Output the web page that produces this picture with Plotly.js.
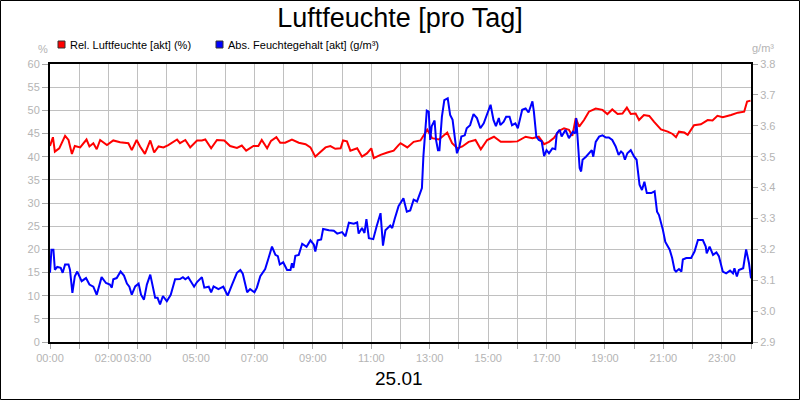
<!DOCTYPE html>
<html>
<head>
<meta charset="utf-8">
<script src="https://cdn.plot.ly/plotly-3.0.1.min.js"></script>
<style>
  html, body { margin: 0; padding: 0; background: #fff; }
  #chart { width: 800px; height: 400px; }
</style>
</head>
<body>
<div id="chart"></div>
<script>
var chartTitle = 'Luftfeuchte [pro Tag]';
var dayLabel = '25.01';
var relName = 'Rel. Luftfeuchte [akt] (%)';
var absName = 'Abs. Feuchtegehalt [akt] (g/m³)';

// x axis: a tick every hour, only some carry a label
var hourTicks = [0,1,2,3,4,5,6,7,8,9,10,11,12,13,14,15,16,17,18,19,20,21,22,23,24];
var hourLabels = ['00:00','','02:00','03:00','','05:00','','07:00','','09:00','','11:00','',
  '13:00','','15:00','','17:00','','19:00','','21:00','','23:00',''];

// relative humidity (%)
var relTimes = [
  '00:00','00:06','00:10','00:19','00:31','00:38','00:45','00:51','01:02','01:15',
  '01:21','01:29','01:36','01:43','01:57','02:10','02:24','02:41','02:48','02:58',
  '03:05','03:15','03:26','03:34','03:43','03:53','04:03','04:14','04:21','04:27',
  '04:38','04:48','05:02','05:12','05:19','05:31','05:43','05:58','06:10','06:24',
  '06:34','06:43','06:58','07:08','07:15','07:26','07:34','07:45','07:53','08:03',
  '08:17','08:31','08:45','08:55','09:05','09:12','09:26','09:36','09:46','09:57',
  '10:02','10:10','10:17','10:31','10:41','10:51','11:00','11:05','11:19','11:33',
  '11:46','11:56','12:00','12:14','12:27','12:41','12:55','13:05','13:19','13:36',
  '13:46','13:57','14:07','14:20','14:34','14:45','14:58','15:12','15:26','15:46',
  '16:00','16:17','16:31','16:44','16:55','17:05','17:15','17:26','17:36','17:46',
  '17:53','18:00','18:07','18:17','18:27','18:41','18:55','19:05','19:15','19:26',
  '19:36','19:45','19:53','20:03','20:10','20:20','20:31','20:41','20:55','21:09',
  '21:19','21:26','21:32','21:43','21:50','22:03','22:17','22:31','22:41','22:51',
  '23:02','23:19','23:33','23:46','23:52','23:59'];
var relValues = [
  42.3,44.2,41.1,41.8,44.5,43.6,40.6,42.3,42.0,43.7,
  42.2,42.9,41.6,43.6,42.5,43.5,43.1,42.9,41.4,43.6,
  42.2,40.6,43.5,40.9,42.2,42.0,42.5,43.2,43.7,42.9,
  43.6,42.0,43.5,43.5,43.7,41.8,43.6,43.5,42.3,41.9,
  42.4,41.3,42.3,42.3,43.6,41.8,43.4,44.2,43.0,43.0,
  43.7,43.0,42.7,42.0,40.0,40.7,42.0,42.3,41.7,41.8,
  43.5,43.3,41.3,41.8,40.0,40.7,41.8,39.7,40.4,40.9,
  41.3,42.5,42.9,42.0,43.2,43.5,45.8,44.0,43.7,45.2,
  42.9,41.8,42.2,43.2,43.6,41.6,43.6,44.3,43.2,43.2,
  43.3,44.3,44.0,44.3,42.7,43.2,44.0,45.6,46.1,45.8,
  44.5,48.3,46.5,47.9,49.7,50.4,50.1,49.2,50.2,49.2,
  49.3,50.6,49.2,49.3,47.9,49.0,48.8,47.5,45.9,45.4,
  44.9,44.2,45.4,45.2,44.7,46.8,47.0,47.9,47.8,48.8,
  48.5,49.0,49.5,49.7,51.9,52.1];

// absolute moisture content (g/m³)
var absTimes = [
  '00:00','00:03','00:07','00:10','00:15','00:22','00:26','00:31','00:38','00:41',
  '00:46','00:51','00:56','01:05','01:14','01:21','01:29','01:36','01:46','01:55',
  '02:03','02:07','02:10','02:17','02:25','02:32','02:38','02:43','02:48','02:55',
  '03:02','03:07','03:13','03:19','03:26','03:31','03:36','03:41','03:46','03:52',
  '04:00','04:08','04:17','04:27','04:33','04:38','04:44','04:56','05:02','05:12',
  '05:17','05:26','05:31','05:36','05:46','05:56','06:05','06:14','06:24','06:31',
  '06:36','06:45','06:51','07:00','07:05','07:12','07:22','07:29','07:36','07:43',
  '07:48','07:52','07:59','08:07','08:14','08:17','08:20','08:24','08:31','08:38',
  '08:47','08:55','09:02','09:05','09:10','09:17','09:21','09:33','09:43','09:50',
  '10:00','10:07','10:14','10:24','10:31','10:34','10:41','10:46','10:50','10:55',
  '11:04','11:11','11:19','11:24','11:29','11:39','11:43','11:48','11:56','12:06',
  '12:13','12:20','12:27','12:34','12:44','12:47','12:54','12:58','13:01','13:04',
  '13:10','13:13','13:17','13:20','13:25','13:30','13:37','13:42','13:47','13:53',
  '13:56','14:01','14:05','14:12','14:16','14:23','14:30','14:37','14:44','14:51',
  '14:58','15:05','15:11','15:16','15:22','15:25','15:32','15:37','15:44','15:49',
  '15:56','16:01','16:10','16:17','16:23','16:31','16:34','16:39','16:44','16:50',
  '16:55','17:00','17:05','17:12','17:18','17:21','17:27','17:31','17:39','17:46',
  '17:54','17:59','18:01','18:06','18:08','18:11','18:14','18:21','18:27','18:33',
  '18:36','18:41','18:48','18:55','19:02','19:08','19:15','19:22','19:28','19:33',
  '19:37','19:41','19:46','19:53','20:00','20:05','20:11','20:16','20:21','20:26',
  '20:35','20:42','20:47','20:51','20:59','21:04','21:13','21:18','21:23','21:26',
  '21:32','21:37','21:40','21:47','21:57','22:04','22:11','22:21','22:27','22:29',
  '22:35','22:42','22:49','22:54','23:02','23:09','23:17','23:23','23:26','23:31',
  '23:35','23:44','23:50','23:56','24:00'];
var absValues = [
  3.124,3.199,3.199,3.134,3.143,3.140,3.124,3.151,3.151,3.134,
  3.059,3.113,3.128,3.097,3.107,3.086,3.079,3.053,3.110,3.091,
  3.086,3.076,3.103,3.107,3.128,3.115,3.089,3.079,3.053,3.080,
  3.089,3.053,3.037,3.086,3.118,3.080,3.043,3.043,3.022,3.049,
  3.032,3.053,3.103,3.104,3.110,3.103,3.110,3.079,3.094,3.110,
  3.076,3.079,3.061,3.080,3.071,3.079,3.050,3.086,3.124,3.133,
  3.121,3.061,3.071,3.061,3.076,3.113,3.136,3.172,3.209,3.182,
  3.178,3.151,3.158,3.133,3.133,3.155,3.140,3.179,3.182,3.218,
  3.208,3.229,3.215,3.193,3.229,3.232,3.266,3.262,3.260,3.251,
  3.256,3.242,3.286,3.283,3.287,3.251,3.269,3.253,3.298,3.236,
  3.233,3.275,3.317,3.212,3.262,3.277,3.269,3.298,3.340,3.365,
  3.322,3.326,3.361,3.355,3.398,3.500,3.649,3.646,3.554,3.598,
  3.617,3.554,3.521,3.521,3.629,3.683,3.689,3.635,3.619,3.544,
  3.511,3.532,3.565,3.569,3.592,3.602,3.638,3.625,3.592,3.608,
  3.635,3.668,3.619,3.599,3.625,3.602,3.613,3.629,3.629,3.602,
  3.608,3.592,3.652,3.656,3.643,3.679,3.646,3.565,3.554,3.550,
  3.502,3.521,3.511,3.527,3.524,3.575,3.587,3.565,3.587,3.560,
  3.581,3.575,3.625,3.500,3.463,3.452,3.490,3.500,3.511,3.521,
  3.500,3.548,3.565,3.569,3.562,3.562,3.554,3.533,3.506,3.517,
  3.511,3.490,3.511,3.521,3.500,3.490,3.409,3.392,3.419,3.382,
  3.382,3.388,3.322,3.311,3.263,3.224,3.199,3.172,3.133,3.128,
  3.136,3.128,3.167,3.172,3.172,3.193,3.230,3.230,3.209,3.187,
  3.209,3.182,3.190,3.178,3.128,3.122,3.131,3.122,3.139,3.112,
  3.133,3.139,3.200,3.154,3.106];

function toHours(t) {
  var p = t.split(':');
  return parseInt(p[0], 10) + parseInt(p[1], 10) / 60;
}

// plot box in pixels, used to place the hand-made legend and labels
var L = 50, R = 751, T = 64, B = 342;
function px(x) { return (x - L) / (R - L); }
function py(y) { return (B - y) / (B - T); }

var FONT = 'Liberation Sans, Arial, sans-serif';
var TICKGREY = '#b4b4b4';

var traces = [
  {
    x: relTimes.map(toHours), y: relValues, name: relName,
    type: 'scatter', mode: 'lines', yaxis: 'y', showlegend: false,
    line: { color: '#ff0000', width: 2 }
  },
  {
    x: absTimes.map(toHours), y: absValues, name: absName,
    type: 'scatter', mode: 'lines', yaxis: 'y2', showlegend: false,
    line: { color: '#0000ff', width: 2 }
  }
];

var layout = {
  width: 800, height: 400,
  margin: { l: L, r: 800 - R, t: T, b: 400 - B, pad: 0 },
  paper_bgcolor: '#ffffff', plot_bgcolor: '#ffffff',
  font: { family: FONT, size: 11, color: TICKGREY },
  title: {
    text: chartTitle, x: 0.5, xanchor: 'center', y: 0.955, yanchor: 'middle',
    font: { family: FONT, size: 27, color: '#000000' }
  },
  xaxis: {
    range: [0, 24], tickmode: 'array', tickvals: hourTicks, ticktext: hourLabels,
    tickangle: 0, automargin: false,
    showgrid: true, gridcolor: '#c0c0c0', gridwidth: 1,
    showline: true, linecolor: '#000000', linewidth: 2, mirror: true,
    ticks: 'outside', ticklen: 5, tickcolor: '#a8a8a8',
    tickfont: { family: FONT, size: 11, color: TICKGREY },
    zeroline: false, fixedrange: true
  },
  yaxis: {
    range: [0, 60], dtick: 5, tick0: 0, automargin: false,
    showgrid: true, gridcolor: '#c0c0c0', gridwidth: 1,
    showline: true, linecolor: '#000000', linewidth: 2, mirror: true,
    ticks: 'outside', ticklen: 6, tickcolor: '#a8a8a8',
    tickfont: { family: FONT, size: 11, color: TICKGREY },
    zeroline: false, fixedrange: true
  },
  yaxis2: {
    overlaying: 'y', side: 'right', range: [2.9, 3.8], dtick: 0.1, tick0: 2.9,
    tickformat: '.1f', showgrid: false, automargin: false,
    showline: true, linecolor: '#000000', linewidth: 2,
    ticks: 'outside', ticklen: 5, tickcolor: '#a8a8a8',
    tickfont: { family: FONT, size: 11, color: TICKGREY },
    zeroline: false, fixedrange: true
  },
  shapes: [
    // outer frame
    { type: 'rect', xref: 'paper', yref: 'paper', layer: 'above',
      x0: px(0.5), x1: px(799.5), y0: py(399.5), y1: py(0.5),
      line: { color: '#000000', width: 1 }, fillcolor: 'rgba(0,0,0,0)' },
    // legend swatches
    { type: 'rect', xref: 'paper', yref: 'paper',
      x0: px(58), x1: px(65), y0: py(48), y1: py(41),
      line: { color: '#333333', width: 1 }, fillcolor: '#ff0000' },
    { type: 'rect', xref: 'paper', yref: 'paper',
      x0: px(216), x1: px(223), y0: py(48), y1: py(41),
      line: { color: '#333333', width: 1 }, fillcolor: '#0000ff' }
  ],
  annotations: [
    { text: relName, xref: 'paper', yref: 'paper', x: px(68), y: py(44.5),
      xanchor: 'left', yanchor: 'middle', showarrow: false,
      font: { family: FONT, size: 11, color: '#000000' } },
    { text: absName, xref: 'paper', yref: 'paper', x: px(226), y: py(44.5),
      xanchor: 'left', yanchor: 'middle', showarrow: false,
      font: { family: FONT, size: 11, color: '#000000' } },
    { text: '%', xref: 'paper', yref: 'paper', x: px(43), y: py(49),
      xanchor: 'center', yanchor: 'middle', showarrow: false,
      font: { family: FONT, size: 11, color: TICKGREY } },
    { text: 'g/m³', xref: 'paper', yref: 'paper', x: px(763), y: py(48),
      xanchor: 'center', yanchor: 'middle', showarrow: false,
      font: { family: FONT, size: 11, color: TICKGREY } },
    { text: dayLabel, xref: 'paper', yref: 'paper', x: px(399), y: py(378),
      xanchor: 'center', yanchor: 'middle', showarrow: false,
      font: { family: FONT, size: 19, color: '#000000' } }
  ]
};

Plotly.newPlot('chart', traces, layout, { displayModeBar: false, staticPlot: true });
</script>
</body>
</html>
